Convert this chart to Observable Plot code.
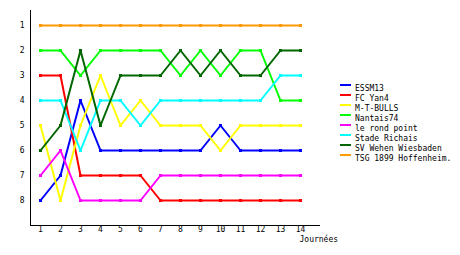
<!DOCTYPE html>
<html>
<head>
<meta charset="utf-8">
<script src="https://cdn.jsdelivr.net/npm/d3@7"></script>
<script src="https://cdn.jsdelivr.net/npm/@observablehq/plot@0.6"></script>
<style>
  html, body { margin: 0; padding: 0; background: #fff; }
  #wrap { position: relative; width: 460px; height: 255px; }
  #legend { position: absolute; left: 340px; top: 81px; font: 8px "DejaVu Sans Mono", monospace; color: #000; }
  .item { position: relative; height: 10px; }
  .sw { position: absolute; left: 0; top: 3px; width: 11px; height: 2px; }
  .lb { position: absolute; left: 15px; top: 3px; line-height: 9px; white-space: nowrap; }
</style>
</head>
<body>
<div id="wrap"><div id="legend"></div></div>
<script>
const journees = [1,2,3,4,5,6,7,8,9,10,11,12,13,14];
const rankTicks = [1,2,3,4,5,6,7,8];
const teams = ["ESSM13","FC Yan4","M-T-BULLS","Nantais74","le rond point","Stade Richais","SV Wehen Wiesbaden","TSG 1899 Hoffenheim."];
const colors = ["#0000ff","#ff0000","#ffff00","#00ff00","#ff00ff","#00ffff","#006600","#ff9900"];
const essm13   = [8,7,4,6,6,6,6,6,6,5,6,6,6,6];
const fcYan4   = [3,3,7,7,7,7,8,8,8,8,8,8,8,8];
const mtBulls  = [5,8,5,3,5,4,5,5,5,6,5,5,5,5];
const nantais  = [2,2,3,2,2,2,2,3,2,3,2,2,4,4];
const rondPoint= [7,6,8,8,8,8,7,7,7,7,7,7,7,7];
const richais  = [4,4,6,4,4,5,4,4,4,4,4,4,3,3];
const wehen    = [6,5,2,5,3,3,3,2,3,2,3,3,2,2];
const tsg      = [1,1,1,1,1,1,1,1,1,1,1,1,1,1];
const series = [essm13, fcYan4, mtBulls, nantais, rondPoint, richais, wehen, tsg];
const xDomain = [0.5, 15];
const yDomain = [0.4, 9];

const rows = [];
series.forEach((vals, i) => vals.forEach((v, j) => rows.push({team: teams[i], j: journees[j], rank: v})));

const font = '"DejaVu Sans Mono", monospace';
const chart = Plot.plot({
  width: 460,
  height: 255,
  marginLeft: 30,
  marginRight: 140,
  marginTop: 10,
  marginBottom: 30,
  style: {fontFamily: font, fontSize: "8px", background: "#fff", color: "#000"},
  x: {domain: xDomain, ticks: journees, label: null},
  y: {domain: yDomain, reverse: true, ticks: rankTicks, label: null},
  color: {domain: teams, range: colors},
  marks: [
    Plot.axisX(journees, {tickSize: 0, tickPadding: 1, tickFormat: d => String(d), fontSize: 8, label: null}),
    Plot.axisY(rankTicks, {tickSize: 0, tickPadding: 6, tickFormat: d => String(d), fontSize: 8, label: null}),
    Plot.ruleX([xDomain[0]], {stroke: "#000", strokeWidth: 1}),
    Plot.ruleY([yDomain[1]], {stroke: "#000", strokeWidth: 1}),
    Plot.line(rows, {x: "j", y: "rank", z: "team", stroke: "team", strokeWidth: 2, curve: "linear"}),
    Plot.dot(rows, {x: "j", y: "rank", fill: "team", symbol: "square", r: 1.7}),
    Plot.text(["Journées"], {frameAnchor: "bottom-right", textAnchor: "start", dx: -21, dy: 16, fontSize: 8, fill: "#000"})
  ]
});
document.getElementById("wrap").prepend(chart);

const legend = document.getElementById("legend");
teams.forEach((t, i) => {
  const it = document.createElement("div");
  it.className = "item";
  const sw = document.createElement("div");
  sw.className = "sw";
  sw.style.background = colors[i];
  const lb = document.createElement("div");
  lb.className = "lb";
  lb.textContent = t;
  it.appendChild(sw); it.appendChild(lb);
  legend.appendChild(it);
});
</script>
</body>
</html>
